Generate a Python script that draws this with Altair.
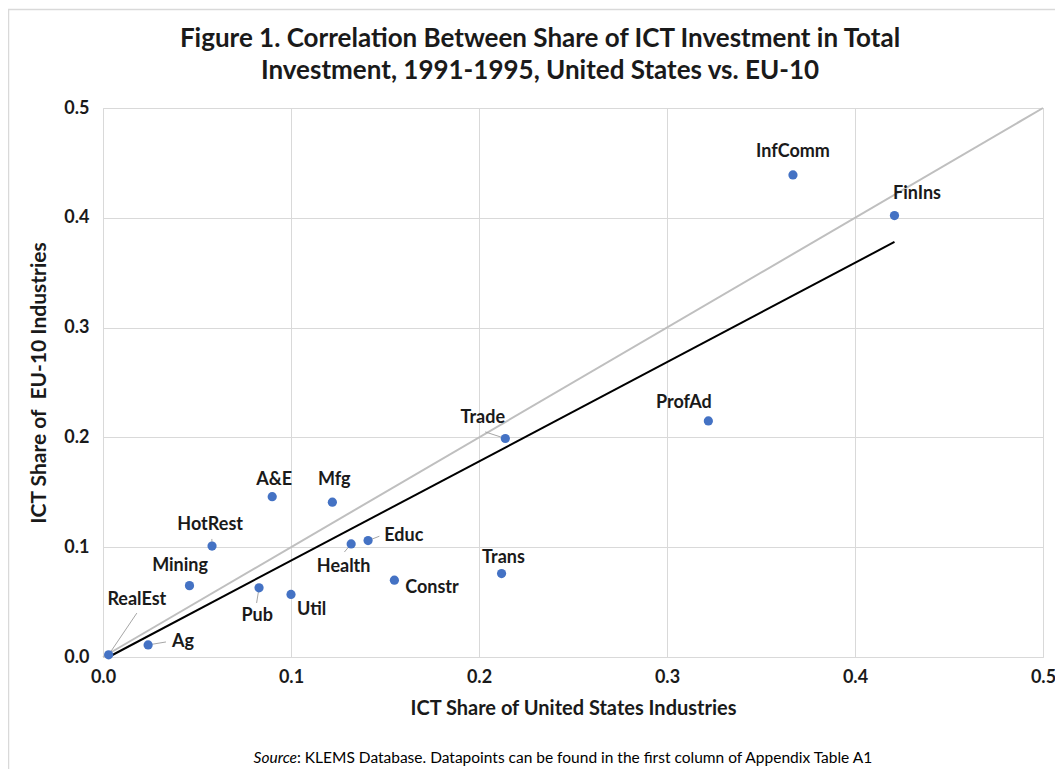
import altair as alt
import pandas as pd

industries = ["InfComm", "FinIns", "ProfAd", "Trade", "Trans", "Constr", "Educ", "Health",
              "Mfg", "A&E", "HotRest", "Mining", "Pub", "Util", "Ag", "RealEst"]
us_share = [0.367, 0.421, 0.322, 0.214, 0.212, 0.155, 0.141, 0.132,
            0.122, 0.090, 0.058, 0.046, 0.083, 0.100, 0.024, 0.003]
eu_share = [0.439, 0.402, 0.215, 0.199, 0.076, 0.070, 0.106, 0.103,
            0.141, 0.146, 0.101, 0.065, 0.063, 0.057, 0.011, 0.002]

# label anchor positions (data units)
label_x = [0.367, 0.433, 0.309, 0.202, 0.213, 0.175, 0.160, 0.128,
           0.123, 0.091, 0.057, 0.041, 0.082, 0.111, 0.0425, 0.018]
label_y = [0.460, 0.422, 0.231, 0.218, 0.090, 0.063, 0.110, 0.082,
           0.161, 0.161, 0.120, 0.083, 0.037, 0.043, 0.014, 0.052]

# leader lines (start near label -> point)
leader_names = ["RealEst", "Ag", "Pub", "Health", "Educ", "Trade", "HotRest"]
leader_x = [0.018, 0.0335, 0.0817, 0.1284, 0.147, 0.2033, 0.0579]
leader_y = [0.040, 0.0137, 0.0492, 0.0956, 0.110, 0.205, 0.1075]

diag_x = [0.0, 0.5]
diag_y = [0.0, 0.5]
fit_x = [0.003, 0.421]
fit_y = [0.0, 0.378]

title_lines = ["Figure 1. Correlation Between Share of ICT Investment in Total",
               "Investment, 1991-1995, United States vs. EU-10"]
source_parts = ["Source", ": KLEMS Database. Datapoints can be found in the first column of Appendix Table A1"]

FONT = "Lato"

pts = pd.DataFrame({"name": industries, "us": us_share, "eu": eu_share,
                    "lx": label_x, "ly": label_y})
lead = pts.set_index("name").loc[leader_names].reset_index()
lead["sx"] = leader_x
lead["sy"] = leader_y

diag = pd.DataFrame({"x": diag_x, "y": diag_y})
fit = pd.DataFrame({"x": fit_x, "y": fit_y})

xs = alt.Scale(domain=[0, 0.5], nice=False)
ys = alt.Scale(domain=[0, 0.5], nice=False)

xaxis = alt.Axis(title="ICT Share of United States Industries", format=".1f",
                 values=[0, 0.1, 0.2, 0.3, 0.4, 0.5], grid=True, ticks=False, domain=False,
                 labelFlush=False,
                 labelFontSize=18, labelFontWeight="bold", labelPadding=11, labelColor="#1a1a1a",
                 titleFontSize=20, titleFontWeight="bold", titlePadding=12, titleColor="#1a1a1a",
                 labelFont=FONT, titleFont=FONT, gridColor="#d9d9d9")
yaxis = alt.Axis(title="ICT Share of\u00a0 EU-10 Industries", format=".1f",
                 values=[0, 0.1, 0.2, 0.3, 0.4, 0.5], grid=True, ticks=False, domain=False,
                 labelFlush=False,
                 labelFontSize=18, labelFontWeight="bold", labelPadding=14, labelColor="#1a1a1a",
                 titleFontSize=21, titleFontWeight="bold", titlePadding=14, titleColor="#1a1a1a",
                 labelFont=FONT, titleFont=FONT, gridColor="#d9d9d9")

border = alt.Chart(pd.DataFrame({"b": [1]})).mark_rect(fill=None, stroke="#d9d9d9", strokeWidth=1.5).encode(
    x=alt.value(-94.5), x2=alt.value(1100), y=alt.value(-98.5), y2=alt.value(800))

title1 = alt.Chart(pd.DataFrame({"t": [title_lines[0]]})).mark_text(
    font=FONT, fontSize=26, fontWeight="bold", color="#1a1a1a", align="center", baseline="middle").encode(
    x=alt.value(437), y=alt.value(-69), text="t:N")
title2 = alt.Chart(pd.DataFrame({"t": [title_lines[1]]})).mark_text(
    font=FONT, fontSize=26, fontWeight="bold", color="#1a1a1a", align="center", baseline="middle").encode(
    x=alt.value(437), y=alt.value(-37), text="t:N")

diag_line = alt.Chart(diag).mark_line(color="#bfbfbf", strokeWidth=2).encode(
    x=alt.X("x:Q", scale=xs, axis=xaxis), y=alt.Y("y:Q", scale=ys, axis=yaxis))
fit_line = alt.Chart(fit).mark_line(color="#000000", strokeWidth=2).encode(
    x=alt.X("x:Q", scale=xs), y=alt.Y("y:Q", scale=ys))

leaders = alt.Chart(lead).mark_rule(color="#a6a6a6", strokeWidth=1).encode(
    x=alt.X("sx:Q", scale=xs), y=alt.Y("sy:Q", scale=ys),
    x2="us:Q", y2="eu:Q")

points = alt.Chart(pts).mark_circle(color="#4472C4", opacity=1, size=85).encode(
    x=alt.X("us:Q", scale=xs), y=alt.Y("eu:Q", scale=ys))

labels = alt.Chart(pts).mark_text(font=FONT, fontSize=18, fontWeight="bold",
                                  color="#1a1a1a", baseline="middle").encode(
    x=alt.X("lx:Q", scale=xs), y=alt.Y("ly:Q", scale=ys), text="name:N")

src_italic = alt.Chart(pd.DataFrame({"t": [source_parts[0]]})).mark_text(
    font=FONT, fontSize=15.5, fontStyle="italic",
    align="right", baseline="alphabetic", color="#000000").encode(
    x=alt.value(194), y=alt.value(655), text="t:N")
src_rest = alt.Chart(pd.DataFrame({"t": [source_parts[1]]})).mark_text(
    font=FONT, fontSize=15.5,
    align="left", baseline="alphabetic", color="#000000").encode(
    x=alt.value(194), y=alt.value(655), text="t:N")

chart = alt.layer(border, title1, title2, diag_line, fit_line, leaders, points, labels,
                  src_italic, src_rest).properties(
    width=940, height=549,
    autosize=alt.AutoSizeParams(type="none"),
    padding={"left": 95, "top": 100, "right": 12, "bottom": 112},
).configure_view(stroke=None).configure(background="white")

chart.save("out.html", embed_options={"renderer": "svg", "actions": False})
